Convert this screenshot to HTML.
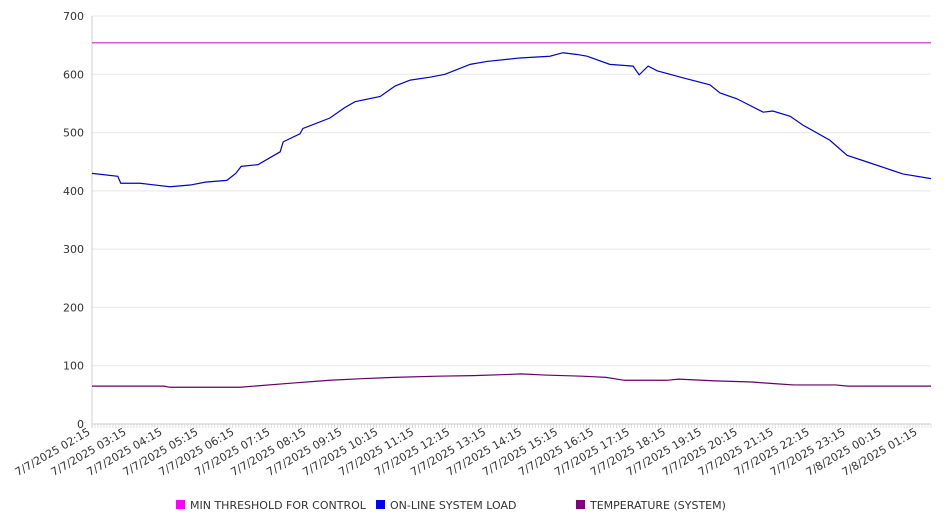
<!DOCTYPE html>
<html><head><meta charset="utf-8"><style>
body{margin:0;background:#fff;font-family:"Liberation Sans","DejaVu Sans",sans-serif}
svg text{font-family:"DejaVu Sans","Liberation Sans",sans-serif}
</style></head><body>
<svg id="chart" width="946" height="526" xmlns="http://www.w3.org/2000/svg"></svg>
<script>
const yTicks=[0,100,200,300,400,500,600,700];
const xLabels=["7/7/2025 02:15","7/7/2025 03:15","7/7/2025 04:15","7/7/2025 05:15","7/7/2025 06:15","7/7/2025 07:15","7/7/2025 08:15","7/7/2025 09:15","7/7/2025 10:15","7/7/2025 11:15","7/7/2025 12:15","7/7/2025 13:15","7/7/2025 14:15","7/7/2025 15:15","7/7/2025 16:15","7/7/2025 17:15","7/7/2025 18:15","7/7/2025 19:15","7/7/2025 20:15","7/7/2025 21:15","7/7/2025 22:15","7/7/2025 23:15","7/8/2025 00:15","7/8/2025 01:15"];
const thresholdValue=654;
const loadMinutes=[0,43,48,80,97,130,164,189,225,240,249,277,314,319,347,352,397,422,439,481,506,531,564,589,631,659,714,764,786,809,826,864,903,913,928,943,986,1031,1048,1076,1120,1136,1165,1186,1231,1260,1298,1353,1400];
const loadValues=[430,425,413,413,411,407,410,415,418,430,442,445,467,484,498,507,525,543,553,562,580,590,595,600,617,622,628,631,637,634,631,617,614,599,614,606,594,582,568,558,535,537,528,513,487,461,448,429,421];
const tempMinutes=[0,120,130,247,332,397,454,504,576,636,696,716,756,818,858,888,959,979,1040,1101,1141,1171,1241,1261,1400];
const tempValues=[65,65,63,63,70,75,78,80,82,83,85,86,84,82,80,75,75,77,74,72,69,67,67,65,65];

const svg=document.getElementById('chart');const NS='http://www.w3.org/2000/svg';
const X0=92,X1=931,Y0=424,Y1=16,XMAX=1400,YMAX=700;
const xs=m=>X0+m/XMAX*(X1-X0);
const ys=v=>Y0-v/YMAX*(Y0-Y1);
function mk(t,a,p){const e=document.createElementNS(NS,t);for(const k in a)e.setAttribute(k,a[k]);(p||svg).appendChild(e);return e;}
yTicks.forEach(v=>{
 const g=mk('line',{x1:X0,x2:X1,y1:ys(v),y2:ys(v),stroke:v===0?'#cccccc':'#e8e8e8','stroke-width':1});
 
 
 const t=mk('text',{x:84,y:ys(v)+4,'text-anchor':'end','font-size':11,fill:'#333'});t.textContent=v;
 
 
});
const ax=mk('line',{x1:X0,x2:X0,y1:Y1,y2:Y0+4,stroke:'#cccccc'});


for(let m=0;m<=XMAX;m+=5){const tk=mk('line',{x1:xs(m),x2:xs(m),y1:Y0,y2:Y0+4,stroke:'#cccccc','stroke-width':0.6});
 
 }
xLabels.forEach((l,i)=>{const x=xs(i*60)-1;
 const t=mk('text',{x:x,y:Y0+10,'text-anchor':'end','font-size':11,fill:'#333',transform:`rotate(-30 ${x} ${Y0+10})`});t.textContent=l;
 
 });
const th=mk('line',{x1:X0,x2:X1,y1:ys(thresholdValue),y2:ys(thresholdValue),stroke:'#cc22cc','stroke-width':1.2});


function series(ms,vs,c,name){const p=mk('polyline',{points:ms.map((m,i)=>xs(m)+','+ys(vs[i])).join(' '),fill:'none',stroke:c,'stroke-width':1.2});
 
 }
series(loadMinutes,loadValues,'#0000cc','system-load-line');
series(tempMinutes,tempValues,'#660066','temperature-line');
const legend=[["MIN THRESHOLD FOR CONTROL","#ff00ff",176],["ON-LINE SYSTEM LOAD","#0000ff",376],["TEMPERATURE (SYSTEM)","#800080",576]];
legend.forEach(([n,c,x])=>{const r=mk('rect',{x:x,y:500,width:9,height:9,fill:c});
 
 
 const t=mk('text',{x:x+14,y:509,'font-size':11,fill:'#333'});t.textContent=n;
 
 });
</script>
</body></html>
